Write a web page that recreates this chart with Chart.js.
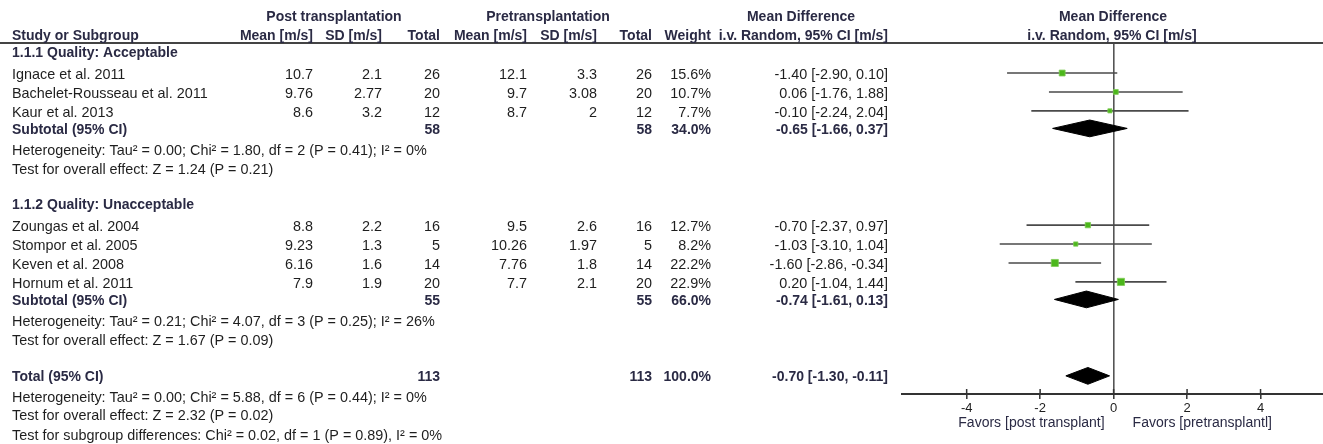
<!DOCTYPE html>
<html>
<head>
<meta charset="utf-8">
<title>Mean difference forest plot</title>
<script src="https://cdn.jsdelivr.net/npm/chart.js@4.4.1/dist/chart.umd.min.js"></script>
<style>
  html, body { margin: 0; padding: 0; background: #ffffff; overflow: hidden; }
  canvas { display: block; }
</style>
</head>
<body>
<canvas id="forest" width="1323" height="444"></canvas>
<script>
// ---- Study data ----
const studies = [
  'Ignace et al. 2011',
  'Bachelet-Rousseau et al. 2011',
  'Kaur et al. 2013',
  'Zoungas et al. 2004',
  'Stompor et al. 2005',
  'Keven et al. 2008',
  'Hornum et al. 2011'
];
const studyGroup = [0, 0, 0, 1, 1, 1, 1];
const postMean  = [10.7, 9.76, 8.6, 8.8, 9.23, 6.16, 7.9];
const postSD    = [2.1, 2.77, 3.2, 2.2, 1.3, 1.6, 1.9];
const postTotal = [26, 20, 12, 16, 5, 14, 20];
const preMean   = [12.1, 9.7, 8.7, 9.5, 10.26, 7.76, 7.7];
const preSD     = [3.3, 3.08, 2, 2.6, 1.97, 1.8, 2.1];
const preTotal  = [26, 20, 12, 16, 5, 14, 20];
const weight    = [15.6, 10.7, 7.7, 12.7, 8.2, 22.2, 22.9];
const md        = [-1.40, 0.06, -0.10, -0.70, -1.03, -1.60, 0.20];
const mdLow     = [-2.90, -1.76, -2.24, -2.37, -3.10, -2.86, -1.04];
const mdHigh    = [0.10, 1.88, 2.04, 0.97, 1.04, -0.34, 1.44];

// ---- Subgroup summaries ----
const groupTitles = ['1.1.1 Quality: Acceptable', '1.1.2 Quality: Unacceptable'];
const subPostTotal = [58, 55];
const subPreTotal  = [58, 55];
const subWeight    = [34.0, 66.0];
const subMd        = [-0.65, -0.74];
const subLow       = [-1.66, -1.61];
const subHigh      = [0.37, 0.13];
const subHet = [
  'Heterogeneity: Tau² = 0.00; Chi² = 1.80, df = 2 (P = 0.41); I² = 0%',
  'Heterogeneity: Tau² = 0.21; Chi² = 4.07, df = 3 (P = 0.25); I² = 26%'
];
const subTest = [
  'Test for overall effect: Z = 1.24 (P = 0.21)',
  'Test for overall effect: Z = 1.67 (P = 0.09)'
];

// ---- Overall summary ----
const totPostTotal = 113;
const totPreTotal = 113;
const totWeight = 100.0;
const totMd = -0.70;
const totLow = -1.30;
const totHigh = -0.11;
const totNotes = [
  'Heterogeneity: Tau² = 0.00; Chi² = 5.88, df = 6 (P = 0.44); I² = 0%',
  'Test for overall effect: Z = 2.32 (P = 0.02)',
  'Test for subgroup differences: Chi² = 0.02, df = 1 (P = 0.89), I² = 0%'
];

// ---- Axis ----
const xTicks = [-4, -2, 0, 2, 4];
const favours = ['Favors [post transplant]', 'Favors [pretransplantl]'];

// ---- Row layout (in row units, top of table body = 0) ----
const lines = [];
const studyRow = [];
const subRow = [];
let r = 0.5;
groupTitles.forEach((title, g) => {
  lines.push({ kind: 'group', y: r, text: title });
  r += 1.04;
  studies.forEach((s, i) => {
    if (studyGroup[i] !== g) return;
    studyRow[i] = r;
    lines.push({ kind: 'study', y: r, i });
    r += 0.97;
  });
  r -= 0.07;
  subRow[g] = r;
  lines.push({ kind: 'subtotal', y: r, g });
  r += 1.1;
  lines.push({ kind: 'note', y: r, text: subHet[g] });
  r += 0.98;
  lines.push({ kind: 'note', y: r, text: subTest[g] });
  r += 1.84;
});
const totRow = r;
lines.push({ kind: 'total', y: r });
r += 1.07;
lines.push({ kind: 'note', y: r, text: totNotes[0] });
r += 0.95;
lines.push({ kind: 'note', y: r, text: totNotes[1] });
r += 1.0;
lines.push({ kind: 'note', y: r, text: totNotes[2] });

// ---- Styling ----
const FONT = '"Liberation Sans", Arial, Helvetica, sans-serif';
const TXT = '#1e1e1e';
const HEAD = '#2a2a44';
const GREEN = '#4cb71c';
const LINEC = '#4a4a4a';
const DIAMOND_H = 0.43;

const fmt2 = v => v.toFixed(2);
const ciText = (m, lo, hi) => `${fmt2(m)} [${fmt2(lo)}, ${fmt2(hi)}]`;
const pct = v => v.toFixed(1) + '%';

// ---- Datasets ----
const datasets = [];
// confidence interval whiskers
studies.forEach((s, i) => {
  datasets.push({
    data: [{ x: mdLow[i], y: studyRow[i] }, { x: mdHigh[i], y: studyRow[i] }],
    showLine: true, borderColor: LINEC, borderWidth: 1.6, pointRadius: 0, order: 2
  });
});
// study squares sized by weight
datasets.push({
  data: studies.map((s, i) => ({ x: md[i], y: studyRow[i], w: weight[i] })),
  showLine: false,
  pointStyle: 'rect',
  pointRadius: ctx => {
    const w = ctx.raw ? ctx.raw.w : 10;
    return 1.5 * Math.sqrt(w) / Math.SQRT2;
  },
  backgroundColor: GREEN,
  borderColor: '#7fcc55',
  borderWidth: 0.8,
  order: 1
});
// pooled diamonds
function diamond(m, lo, hi, y) {
  return {
    data: [
      { x: lo, y: y }, { x: m, y: y - DIAMOND_H },
      { x: hi, y: y }, { x: m, y: y + DIAMOND_H }, { x: lo, y: y }
    ],
    showLine: true, fill: 'shape', backgroundColor: '#000', borderColor: '#000',
    borderWidth: 1, pointRadius: 0, tension: 0, order: 1
  };
}
subMd.forEach((m, g) => datasets.push(diamond(m, subLow[g], subHigh[g], subRow[g])));
datasets.push(diamond(totMd, totLow, totHigh, totRow));

// ---- Table text and rules ----
const COLS = {
  name: 12, postMean: 313, postSD: 382, postN: 440,
  preMean: 527, preSD: 597, preN: 652, weight: 711, ci: 888
};

const tablePlugin = {
  id: 'forestTable',
  afterDraw(chart) {
    const ctx = chart.ctx;
    const ys = chart.scales.y;
    const xs = chart.scales.x;
    const area = chart.chartArea;
    const py = v => ys.getPixelForValue(v);
    ctx.save();

    // rule under headings
    ctx.strokeStyle = '#444';
    ctx.lineWidth = 2;
    ctx.beginPath();
    ctx.moveTo(0, area.top);
    ctx.lineTo(chart.width, area.top);
    ctx.stroke();

    // upper half of axis tick marks
    ctx.strokeStyle = '#333';
    ctx.lineWidth = 1.5;
    xTicks.forEach(t => {
      const x = xs.getPixelForValue(t);
      ctx.beginPath();
      ctx.moveTo(x, area.bottom - 5);
      ctx.lineTo(x, area.bottom);
      ctx.stroke();
    });

    ctx.textBaseline = 'middle';
    const put = (text, x, y, align, bold, color) => {
      ctx.font = bold ? 'bold 14px ' + FONT : '14.4px ' + FONT;
      ctx.fillStyle = color || (bold ? HEAD : TXT);
      ctx.textAlign = align;
      ctx.fillText(text, x, y);
    };

    // headings
    const h1 = py(-1.4) + 1, h2 = py(-0.42) + 1;
    put('Post transplantation', 334, h1, 'center', true);
    put('Pretransplantation', 548, h1, 'center', true);
    put('Mean Difference', 801, h1, 'center', true);
    put('Mean Difference', 1113, h1, 'center', true);
    put('Study or Subgroup', COLS.name, h2, 'left', true);
    put('Mean [m/s]', COLS.postMean, h2, 'right', true);
    put('SD [m/s]', COLS.postSD, h2, 'right', true);
    put('Total', COLS.postN, h2, 'right', true);
    put('Mean [m/s]', COLS.preMean, h2, 'right', true);
    put('SD [m/s]', COLS.preSD, h2, 'right', true);
    put('Total', COLS.preN, h2, 'right', true);
    put('Weight', COLS.weight, h2, 'right', true);
    put('i.v. Random, 95% CI [m/s]', COLS.ci, h2, 'right', true);
    put('i.v. Random, 95% CI [m/s]', 1112, h2, 'center', true);

    lines.forEach(L => {
      if (L.kind === 'group') {
        put(L.text, COLS.name, py(L.y), 'left', true);
      } else if (L.kind === 'note') {
        put(L.text, COLS.name, py(L.y) + 1, 'left', false);
      } else if (L.kind === 'study') {
        const i = L.i, y = py(L.y) + 2;
        put(studies[i], COLS.name, y, 'left', false);
        put(String(postMean[i]), COLS.postMean, y, 'right', false);
        put(String(postSD[i]), COLS.postSD, y, 'right', false);
        put(String(postTotal[i]), COLS.postN, y, 'right', false);
        put(String(preMean[i]), COLS.preMean, y, 'right', false);
        put(String(preSD[i]), COLS.preSD, y, 'right', false);
        put(String(preTotal[i]), COLS.preN, y, 'right', false);
        put(pct(weight[i]), COLS.weight, y, 'right', false);
        put(ciText(md[i], mdLow[i], mdHigh[i]), COLS.ci, y, 'right', false);
      } else if (L.kind === 'subtotal') {
        const g = L.g, y = py(L.y) + 1.8;
        put('Subtotal (95% CI)', COLS.name, y, 'left', true);
        put(String(subPostTotal[g]), COLS.postN, y, 'right', true);
        put(String(subPreTotal[g]), COLS.preN, y, 'right', true);
        put(pct(subWeight[g]), COLS.weight, y, 'right', true);
        put(ciText(subMd[g], subLow[g], subHigh[g]), COLS.ci, y, 'right', true);
      } else if (L.kind === 'total') {
        const y = py(L.y) + 1;
        put('Total (95% CI)', COLS.name, y, 'left', true);
        put(String(totPostTotal), COLS.postN, y, 'right', true);
        put(String(totPreTotal), COLS.preN, y, 'right', true);
        put(pct(totWeight), COLS.weight, y, 'right', true);
        put(ciText(totMd, totLow, totHigh), COLS.ci, y, 'right', true);
      }
    });

    // favours labels under the axis
    const x0 = xs.getPixelForValue(0);
    ctx.font = '14px ' + FONT;
    ctx.fillStyle = HEAD;
    ctx.textAlign = 'right';
    ctx.fillText(favours[0], x0 - 9, 423);
    ctx.textAlign = 'left';
    ctx.fillText(favours[1], x0 + 19, 423);

    ctx.restore();
  }
};

new Chart(document.getElementById('forest'), {
  type: 'scatter',
  data: { datasets },
  options: {
    responsive: false,
    animation: false,
    devicePixelRatio: 1,
    layout: { autoPadding: false, padding: { left: 902, right: 0, top: 43, bottom: 0 } },
    plugins: { legend: { display: false }, tooltip: { enabled: false } },
    scales: {
      x: {
        type: 'linear',
        min: -5.76,
        max: 5.7,
        afterBuildTicks: scale => { scale.ticks = xTicks.map(v => ({ value: v })); },
        afterFit: scale => { scale.height = 50; },
        grid: {
          drawOnChartArea: true,
          color: c => (c.tick && c.tick.value === 0 ? '#555' : 'rgba(0,0,0,0)'),
          lineWidth: 1.6,
          tickLength: 5,
          tickColor: '#333',
          tickWidth: 1.5
        },
        border: { display: true, color: '#333', width: 2 },
        ticks: {
          padding: 2,
          color: TXT,
          font: { family: FONT, size: 13 },
          maxRotation: 0,
          callback: v => String(v)
        }
      },
      y: {
        type: 'linear',
        min: 0,
        max: 18,
        reverse: true,
        display: false
      }
    }
  },
  plugins: [tablePlugin]
});
</script>
</body>
</html>
